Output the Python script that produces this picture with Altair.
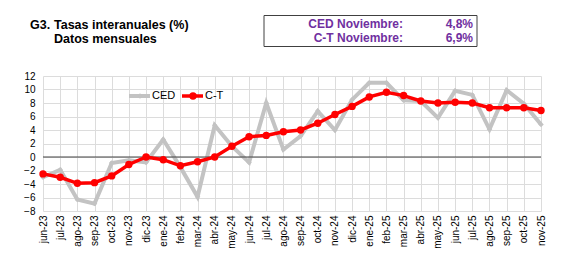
import altair as alt
import pandas as pd

months = ["jun-23", "jul-23", "ago-23", "sep-23", "oct-23", "nov-23", "dic-23",
          "ene-24", "feb-24", "mar-24", "abr-24", "may-24", "jun-24", "jul-24",
          "ago-24", "sep-24", "oct-24", "nov-24", "dic-24",
          "ene-25", "feb-25", "mar-25", "abr-25", "may-25", "jun-25", "jul-25",
          "ago-25", "sep-25", "oct-25", "nov-25"]
ced = [-3.0, -1.9, -6.3, -6.9, -0.9, -0.5, -0.8, 2.6, -1.5, -5.9, 4.7, 1.6, -0.8, 8.0,
       1.1, 3.1, 6.8, 4.0, 8.5, 11.0, 11.0, 8.4, 8.3, 5.8, 9.8, 9.2, 4.1, 9.9, 7.9, 4.8]
ct = [-2.5, -3.0, -3.9, -3.8, -2.8, -1.1, 0.0, -0.4, -1.3, -0.7, 0.0, 1.6, 3.0, 3.2,
      3.75, 4.0, 5.0, 6.3, 7.5, 8.9, 9.6, 9.1, 8.3, 8.0, 8.1, 8.0, 7.3, 7.3, 7.3, 6.9]
y_ticks = [-8, -6, -4, -2, 0, 2, 4, 6, 8, 10, 12]

GREY = "#c3c3c3"
RED = "#ff0000"
PURPLE = "#7030a0"
FONT = "Liberation Sans"

df_ced = pd.DataFrame({"mes": months, "valor": ced})
df_ct = pd.DataFrame({"mes": months, "valor": ct})

x_axis = alt.Axis(title=None, labelAngle=-90, grid=True, gridColor="#dcdcdc",
                  domain=False, ticks=False, labelFontSize=10, labelPadding=4,
                  labelColor="#000000", labelFont=FONT, labelOverlap=False)
y_axis = alt.Axis(title=None, values=y_ticks, tickCount=11, gridColor="#dcdcdc", domain=False,
                  ticks=False, labelFontSize=10, labelPadding=8, labelOverlap=False,
                  labelColor="#000000", labelFont=FONT)
y_scale = alt.Scale(domain=[-8, 12], nice=False, zero=False)

x_enc = alt.X("mes:O", sort=months, scale=alt.Scale(type="point", padding=0), axis=x_axis)
y_enc = alt.Y("valor:Q", scale=y_scale, axis=y_axis)

zero = alt.Chart(pd.DataFrame({"valor": [0]})).mark_rule(color="#404040", strokeWidth=1).encode(y=y_enc)

ced_line = alt.Chart(df_ced).mark_line(color=GREY, strokeWidth=4).encode(x=x_enc, y=y_enc)
ced_pts = alt.Chart(df_ced).mark_point(color=GREY, filled=True, shape="diamond", size=30, opacity=1).encode(x=x_enc, y=y_enc)
ct_line = alt.Chart(df_ct).mark_line(color=RED, strokeWidth=3.5).encode(x=x_enc, y=y_enc)
ct_pts = alt.Chart(df_ct).mark_point(color=RED, filled=True, shape="circle", size=55, opacity=1).encode(x=x_enc, y=y_enc)

one = pd.DataFrame({"k": [0]})

def txt(s, x, y, align="left", color="#000000", size=13, weight="bold"):
    return alt.Chart(one).mark_text(text=s, align=align, baseline="middle", font=FONT,
                                    fontSize=size, fontWeight=weight, color=color).encode(
        x=alt.value(x), y=alt.value(y))

# legend
leg_ced_line = alt.Chart(one).mark_rule(color=GREY, strokeWidth=4).encode(
    x=alt.value(86), x2=alt.value(107), y=alt.value(20))
leg_ced_pt = alt.Chart(one).mark_point(color=GREY, filled=True, shape="diamond", size=30, opacity=1).encode(
    x=alt.value(97), y=alt.value(20))
leg_ct_line = alt.Chart(one).mark_rule(color=RED, strokeWidth=3.5).encode(
    x=alt.value(139), x2=alt.value(160), y=alt.value(20))
leg_ct_pt = alt.Chart(one).mark_point(color=RED, filled=True, shape="circle", size=55, opacity=1).encode(
    x=alt.value(150), y=alt.value(20))
leg_t1 = txt("CED", 109, 20, size=11, weight="normal")
leg_t2 = txt("C-T", 162, 20, size=11, weight="normal")

# header box
box = alt.Chart(one).mark_rect(fill="white", stroke="#404040", strokeWidth=1).encode(
    x=alt.value(221), x2=alt.value(434), y=alt.value(-60.5), y2=alt.value(-29.5))

title_items = [
    txt("G3.", -13, -51, size=12.5),
    txt("Tasas interanuales (%)", 11, -51, size=12.5),
    txt("Datos mensuales", 11, -37.5, size=12.5),
    box,
    txt("CED Noviembre:", 360, -52, align="right", color=PURPLE, size=12),
    txt("C-T Noviembre:", 360, -38, align="right", color=PURPLE, size=12),
    txt("4,8%", 430, -52, align="right", color=PURPLE, size=12),
    txt("6,9%", 430, -38, align="right", color=PURPLE, size=12),
]

chart = alt.layer(
    ced_line, ced_pts, zero, ct_line, ct_pts,
    leg_ced_line, leg_ced_pt, leg_ct_line, leg_ct_pt, leg_t1, leg_t2,
    *title_items
).properties(
    width=498, height=135,
    autosize=alt.AutoSizeParams(type="none"),
    padding={"left": 35, "top": 68, "right": 18, "bottom": 49},
    background="white",
).configure_view(stroke=None, clip=False)

chart.save("out.html", embed_options={"renderer": "svg", "actions": False})
